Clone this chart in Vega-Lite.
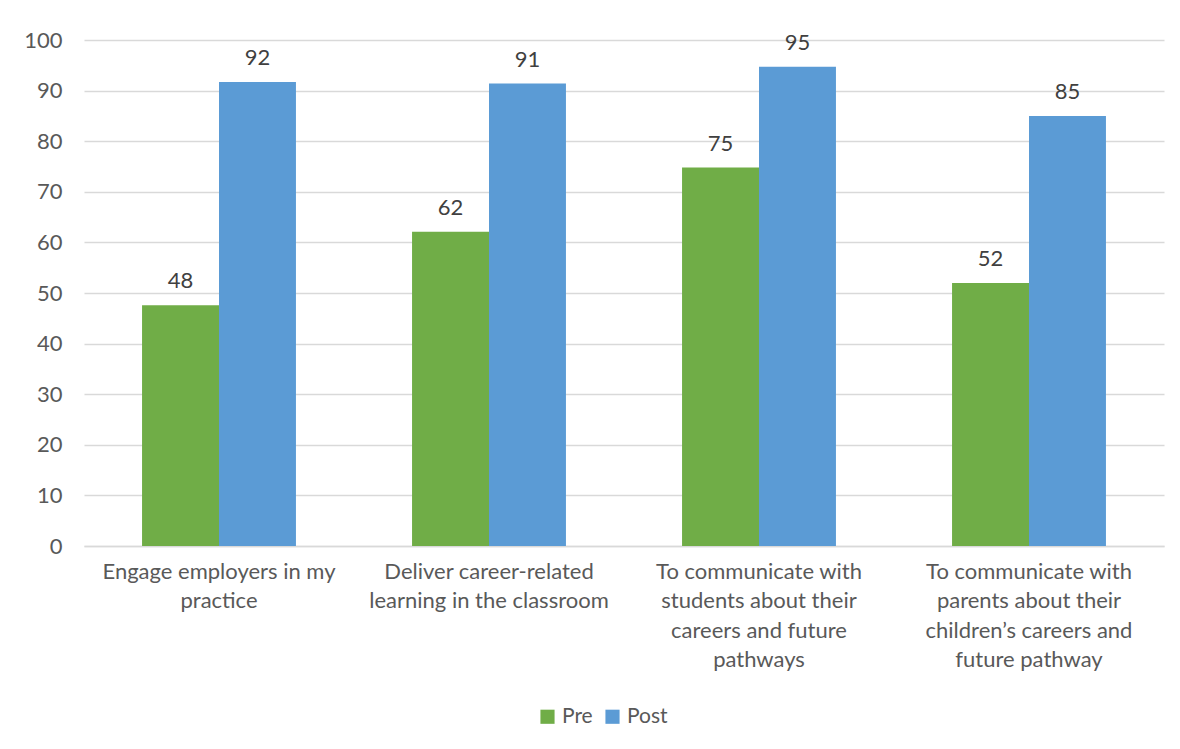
{
  "$schema": "https://vega.github.io/schema/vega-lite/v6.json",
  "autosize": "none",
  "width": 1080,
  "height": 506,
  "padding": {"left": 84, "top": 40, "right": 16, "bottom": 203},
  "background": "white",
  "config": {
    "view": {"stroke": null},
    "font": "Lato",
    "axis": {"labelFont": "Lato", "labelColor": "#595959", "labelFontSize": 22},
    "legend": {"labelFont": "Lato", "labelColor": "#595959", "labelFontSize": 22}
  },
  "data": {
    "values": [
      {"category": "Engage employers in my|practice", "series": "Pre", "value": 47.6},
      {"category": "Engage employers in my|practice", "series": "Post", "value": 91.7},
      {"category": "Deliver career-related|learning in the classroom", "series": "Pre", "value": 62.1},
      {"category": "Deliver career-related|learning in the classroom", "series": "Post", "value": 91.4},
      {"category": "To communicate with|students about their|careers and future|pathways", "series": "Pre", "value": 74.8},
      {"category": "To communicate with|students about their|careers and future|pathways", "series": "Post", "value": 94.7},
      {"category": "To communicate with|parents about their|children’s careers and|future pathway", "series": "Pre", "value": 52.0},
      {"category": "To communicate with|parents about their|children’s careers and|future pathway", "series": "Post", "value": 85.0}
    ]
  },
  "encoding": {
    "x": {
      "field": "category",
      "type": "nominal",
      "sort": null,
      "scale": {"paddingInner": 0.43, "paddingOuter": 0.215},
      "axis": {
        "title": null,
        "labelAngle": 0,
        "labelExpr": "split(datum.label, '|')",
        "labelLineHeight": 29.5,
        "labelPadding": 15,
        "labelLimit": 300,
        "ticks": false,
        "domainColor": "#d9d9d9",
        "domainWidth": 1.5,
        "grid": false
      }
    },
    "xOffset": {"field": "series", "type": "nominal", "sort": ["Pre", "Post"], "scale": {"padding": 0}},
    "y": {
      "field": "value",
      "type": "quantitative",
      "scale": {"domain": [0, 100], "nice": false},
      "axis": {
        "title": null,
        "values": [0, 10, 20, 30, 40, 50, 60, 70, 80, 90, 100],
        "ticks": false,
        "domain": false,
        "labelPadding": 22,
        "gridColor": "#d9d9d9",
        "gridWidth": 1.5
      }
    }
  },
  "layer": [
    {
      "mark": {"type": "bar"},
      "encoding": {
        "color": {
          "field": "series",
          "type": "nominal",
          "sort": ["Pre", "Post"],
          "scale": {"domain": ["Pre", "Post"], "range": ["#70ad47", "#5b9bd5"]},
          "legend": {
            "title": null,
            "orient": "none",
            "legendX": 453,
            "legendY": 666,
            "direction": "horizontal",
            "symbolType": "square",
            "symbolSize": 200,
            "symbolStrokeWidth": 0,
            "symbolOpacity": 1,
            "columnPadding": 9,
            "labelOffset": 4,
            "labelFontSize": 21
          }
        }
      }
    },
    {
      "mark": {"type": "text", "baseline": "alphabetic", "dy": -17, "fontSize": 22, "color": "#404040", "font": "Lato"},
      "encoding": {
        "text": {"field": "value", "type": "quantitative", "format": ".0f"}
      }
    }
  ]
}
